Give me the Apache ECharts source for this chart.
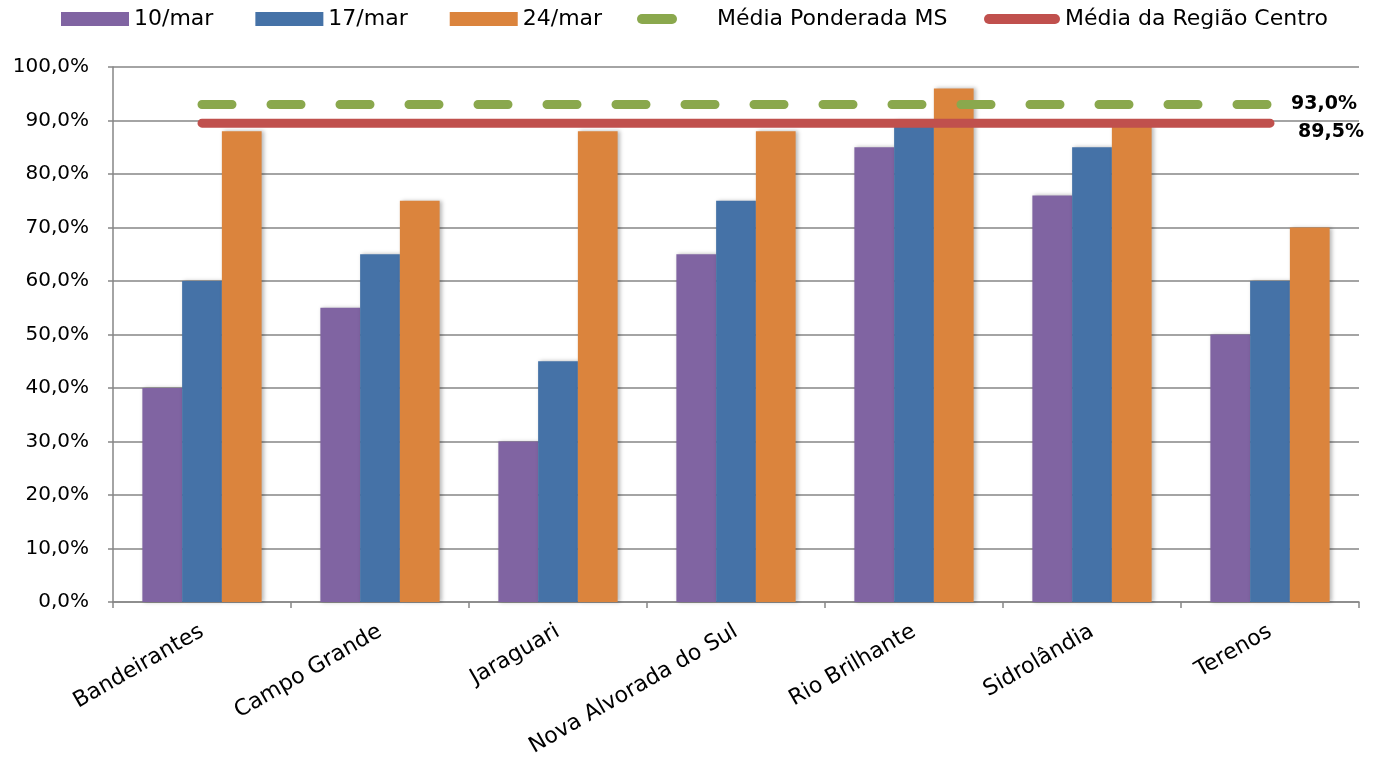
<!DOCTYPE html>
<html>
<head>
<meta charset="utf-8">
<title>Chart</title>
<script src="https://cdn.jsdelivr.net/npm/echarts@6/dist/echarts.min.js"></script>
<style>
  html, body { margin: 0; padding: 0; background: #fff; }
  #chart { width: 1384px; height: 760px; }
</style>
</head>
<body>
<div id="chart"></div>
<script>
  var cidades = ['Bandeirantes', 'Campo Grande', 'Jaraguari', 'Nova Alvorada do Sul', 'Rio Brilhante', 'Sidrolândia', 'Terenos'];
  var semanas = ['10/mar', '17/mar', '24/mar'];
  var mar10 = [40, 55, 30, 65, 85, 76, 50];
  var mar17 = [60, 65, 45, 75, 90, 85, 60];
  var mar24 = [88, 75, 88, 88, 96, 89, 70];
  var mediaMS = 93.0;
  var mediaCentro = 89.5;
  var nomeMediaMS = 'Média Ponderada MS';
  var nomeMediaCentro = 'Média da Região Centro';

  var cores = ['#8064A2', '#4572A7', '#DB843D'];
  var verde = '#8AA84D';
  var vermelho = '#C0504D';
  var fonte = 'DejaVu Sans';
  // pilulas arredondadas para a legenda das linhas
  var pilulaCurta = 'path://M5,0 L35,0 A5,5 0 0 1 35,10 L5,10 A5,5 0 0 1 5,0 Z';
  var pilulaLonga = 'path://M5,0 L71,0 A5,5 0 0 1 71,10 L5,10 A5,5 0 0 1 5,0 Z';

  function pct(v) {
    return v.toFixed(1).replace('.', ',') + '%';
  }

  // linha constante, um ponto por cidade
  function linhaMedia(v) {
    return cidades.map(function () { return v; });
  }

  var sombra = {
    shadowBlur: 4,
    shadowOffsetX: 2,
    shadowOffsetY: 0,
    shadowColor: 'rgba(0,0,0,0.28)'
  };

  var series = [mar10, mar17, mar24].map(function (vals, i) {
    return {
      name: semanas[i],
      type: 'bar',
      data: vals,
      barGap: '0%',
      barCategoryGap: '33%',
      itemStyle: Object.assign({ color: cores[i] }, sombra)
    };
  });

  var rotulo = {
    show: true,
    distance: 0,
    color: '#000',
    fontFamily: fonte,
    fontWeight: 'bold',
    fontSize: 19
  };

  series.push({
    name: nomeMediaMS,
    type: 'line',
    data: linhaMedia(mediaMS),
    symbol: 'none',
    silent: true,
    z: 5,
    itemStyle: { color: verde },
    lineStyle: { color: verde, width: 9, type: [30, 39], cap: 'round' },
    endLabel: Object.assign({}, rotulo, {
      formatter: function () { return pct(mediaMS); },
      offset: [21, 0]
    })
  });
  series.push({
    name: nomeMediaCentro,
    type: 'line',
    data: linhaMedia(mediaCentro),
    symbol: 'none',
    silent: true,
    z: 4,
    itemStyle: { color: vermelho },
    lineStyle: { color: vermelho, width: 9, cap: 'round' },
    endLabel: Object.assign({}, rotulo, {
      formatter: function () { return pct(mediaCentro); },
      offset: [28, 9]
    })
  });

  var textoLegenda = { fontFamily: fonte, fontSize: 22, color: '#000' };

  var myChart = echarts.init(document.getElementById('chart'));
  var option = {
    animation: false,
    textStyle: { fontFamily: fonte },
    legend: [{
      left: 61,
      top: 8,
      padding: 0,
      icon: 'rect',
      itemWidth: 68,
      itemHeight: 14,
      itemGap: 42,
      textStyle: textoLegenda,
      data: semanas
    }, {
      left: 637,
      top: 8,
      padding: 0,
      icon: pilulaCurta,
      itemWidth: 40,
      itemHeight: 10,
      textStyle: Object.assign({ padding: [0, 0, 0, 35] }, textoLegenda),
      data: [nomeMediaMS]
    }, {
      left: 984,
      top: 8,
      padding: 0,
      icon: pilulaLonga,
      itemWidth: 76,
      itemHeight: 10,
      textStyle: textoLegenda,
      data: [nomeMediaCentro]
    }],
    grid: {
      left: 113,
      right: 25,
      top: 67,
      bottom: 158
    },
    xAxis: {
      type: 'category',
      data: cidades,
      axisLine: { lineStyle: { color: '#868686', width: 1.5 } },
      axisTick: { show: true, length: 6, lineStyle: { color: '#868686', width: 1.5 } },
      axisLabel: {
        interval: 0,
        rotate: 30,
        margin: 28,
        color: '#000',
        fontFamily: fonte,
        fontSize: 22
      }
    },
    yAxis: {
      type: 'value',
      min: 0,
      max: 100,
      interval: 10,
      axisLine: { show: true, lineStyle: { color: '#868686', width: 1.5 } },
      axisTick: { show: true, length: 5, lineStyle: { color: '#868686', width: 1.5 } },
      splitLine: { lineStyle: { color: '#868686', width: 1.5 } },
      axisLabel: {
        margin: 24,
        color: '#000',
        fontFamily: fonte,
        fontSize: 20,
        formatter: function (v) { return pct(v); }
      }
    },
    series: series
  };
  myChart.setOption(option);
</script>
</body>
</html>
